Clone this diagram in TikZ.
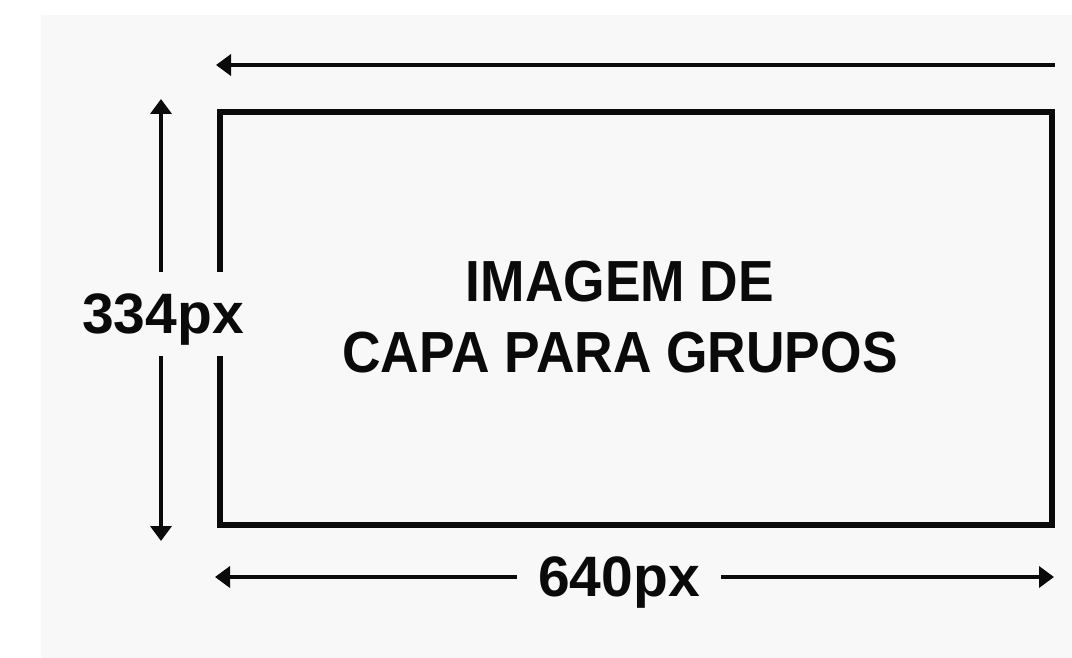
\documentclass[tikz,border=0pt]{standalone}
\usepackage{fontspec}
\usepackage{tikz}
\usetikzlibrary{arrows.meta,positioning}
\newfontfamily\capfont[FakeStretch=0.92]{Liberation Sans}
\newfontfamily\dimfont{Liberation Sans}
\definecolor{ink}{HTML}{0A0A0A}
\definecolor{pagebg}{HTML}{F8F8F8}

\begin{document}
\begin{tikzpicture}[x=1pt,y=-1pt,
  dimarr/.style={-{Triangle[length=15pt,width=21pt]},line width=4pt,draw=ink},
  frame/.style={draw=ink,line width=6pt,minimum width=832pt,minimum height=413pt,inner sep=0pt},
  dimlabel/.style={font=\dimfont\bfseries\fontsize{57}{70}\selectfont,text=ink,fill=pagebg,
                   inner sep=0pt,text depth=0pt,minimum height=84pt},
  title/.style={font=\capfont\bfseries\fontsize{58}{71}\selectfont,text=ink,align=center}]

  \useasboundingbox (0,0) rectangle (1072,658);
  \fill[pagebg] (41,15) rectangle (1072,658);

  % the cover area
  \node[frame] (cover) at (635.5,318.5) {};
  \node[title] (txt) at (620,317) {IMAGEM DE\\CAPA PARA GRUPOS};

  % top guide
  \coordinate (topR) at (1055,65);
  \coordinate (topL) at (216,65);
  \draw[dimarr] (topR) -- (topL);

  % height
  \coordinate (hTop) at (161,99);
  \coordinate (hBot) at (161,541);
  \node[dimlabel,minimum width=166pt] (hgt) at (163,314) {334px};
  \draw[dimarr] (hgt.north -| hTop) -- (hTop);
  \draw[dimarr] (hgt.south -| hBot) -- (hBot);

  % width
  \coordinate (wL) at (215,577);
  \coordinate (wR) at (1054,577);
  \node[dimlabel,minimum width=204pt] (wid) at (619,577) {640px};
  \draw[dimarr] (wid.west) -- (wL);
  \draw[dimarr] (wid.east) -- (wR);
\end{tikzpicture}
\end{document}
